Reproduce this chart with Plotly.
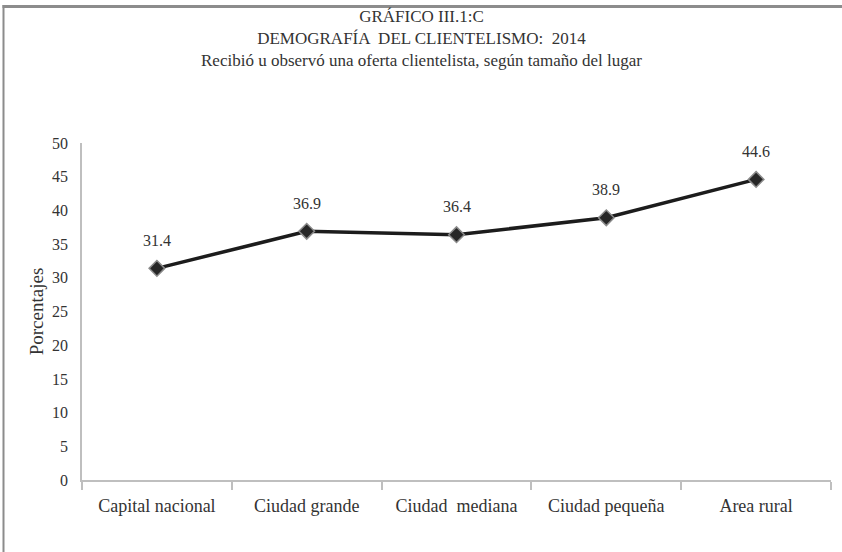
import plotly.graph_objects as go

categories = ["Capital nacional", "Ciudad grande", "Ciudad  mediana", "Ciudad pequeña", "Area rural"]
values = [31.4, 36.9, 36.4, 38.9, 44.6]
y_ticks = [0, 5, 10, 15, 20, 25, 30, 35, 40, 45, 50]

W, H = 842, 552
L, R, T, B = 82, 11, 143, 72
FONT = "Liberation Serif"
TXT = "#333333"
BORDER = "#8c8c8c"

px = lambda x: (x - L) / (W - L - R)
py = lambda y: (H - B - y) / (H - T - B)

fig = go.Figure()
fig.add_trace(go.Scatter(
    x=categories, y=values, mode="lines+markers",
    line=dict(color="#1c1c1c", width=3.5),
    marker=dict(symbol="diamond", size=12, color="#262626",
                line=dict(color="#8a8a8a", width=1.5)),
    hoverinfo="x+y", showlegend=False,
))

for c, v in zip(categories, values):
    fig.add_annotation(x=c, y=v, text=f"{v:.1f}", showarrow=False,
                       yshift=28, font=dict(family=FONT, size=16, color=TXT))

fig.add_annotation(
    xref="paper", yref="paper", x=px(421), y=py(5),
    text="GRÁFICO III.1:C<br>DEMOGRAFÍA  DEL CLIENTELISMO:  2014<br>Recibió u observó una oferta clientelista, según tamaño del lugar",
    showarrow=False, yanchor="top", xanchor="center",
    font=dict(family=FONT, size=17, color=TXT),
)

# outer chart border: top bar and left bar
fig.add_shape(type="rect", xref="paper", yref="paper",
              x0=px(2.5), x1=px(842), y0=py(8), y1=py(5),
              fillcolor=BORDER, line=dict(width=0), layer="above")
fig.add_shape(type="rect", xref="paper", yref="paper",
              x0=px(2.5), x1=px(4.5), y0=py(552), y1=py(5),
              fillcolor=BORDER, line=dict(width=0), layer="above")

fig.update_layout(
    width=W, height=H,
    margin=dict(l=L, r=R, t=T, b=B),
    paper_bgcolor="white", plot_bgcolor="white",
    font=dict(family=FONT, size=16, color=TXT),
)
fig.update_xaxes(
    type="category", showline=True, linecolor="#bfbfbf", linewidth=1.5,
    ticks="outside", tickson="boundaries", ticklen=8, tickcolor="#bfbfbf", tickwidth=1.5,
    showgrid=False, zeroline=False, tickfont=dict(family=FONT, size=18, color=TXT),
    ticklabelstandoff=9, range=[-0.5, 4.5], fixedrange=True,
)
fig.update_yaxes(
    range=[0, 50], tickvals=y_ticks, showline=True, linecolor="#bfbfbf", linewidth=1.5,
    ticks="", showgrid=False, zeroline=False, ticklabelstandoff=9,
    tickfont=dict(family=FONT, size=16, color=TXT),
    title=dict(text="Porcentajes", standoff=3, font=dict(family=FONT, size=19, color=TXT)),
    fixedrange=True,
)

fig.write_html("out.html", config={"displayModeBar": False},
               post_script="document.body.style.margin='0';")
